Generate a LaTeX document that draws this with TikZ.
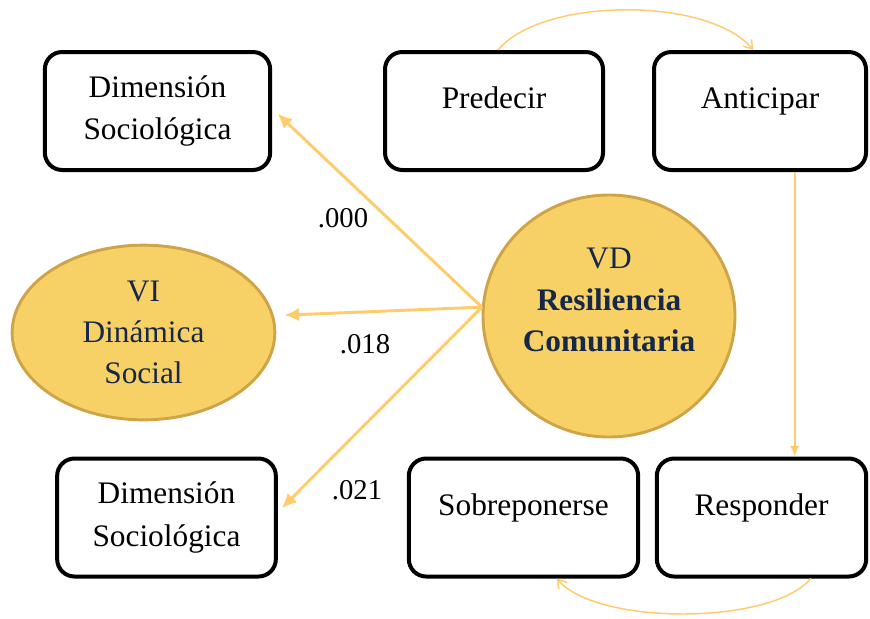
\documentclass[tikz,border=0pt]{standalone}
\usepackage{fontspec}
\setmainfont{Liberation Serif}
\usepackage{xcolor}
\usepackage{tikz}
\usetikzlibrary{arrows.meta,positioning,shapes.geometric,calc}
\definecolor{resilGold}{HTML}{F8D166}
\definecolor{resilRim}{HTML}{CFA448}
\definecolor{resilNavy}{HTML}{15284A}
\definecolor{resilArrow}{HTML}{FFCB6B}
\tikzset{
  dimbox/.style={
    rectangle,
    rounded corners=13pt,
    draw=black,
    fill=white,
    line width=3pt,
    minimum height=88.5pt,
    align=center,
    font=\fontsize{23.5}{32}\selectfont
  },
  varEllipse/.style={
    ellipse,
    draw=resilRim,
    fill=resilGold,
    line width=2.2pt,
    inner sep=0pt,
    align=center,
    text=resilNavy,
    font=\fontsize{23.5}{31}\selectfont
  },
  ellipseText/.style={
    align=center,
    text=resilNavy,
    font=\fontsize{23.5}{31}\selectfont
  },
  link/.style={
    -{Latex[length=11pt,width=10pt]},
    line width=2.2pt,
    draw=resilArrow
  },
  flow/.style={
    -{Latex[length=8pt,width=7pt]},
    line width=1.5pt,
    draw=resilArrow
  },
  loop/.style={
    -{Straight Barb[length=6pt,width=8pt]},
    line width=1.1pt,
    draw=resilArrow
  },
  pvalue/.style={
    font=\fontsize{21.5}{26}\selectfont
  }
}
\begin{document}
\begin{tikzpicture}[x=0.75pt,y=-0.75pt]
  \useasboundingbox (0,0) rectangle (870,618);
  \node[dimbox,minimum width=169pt] (dimTop) at (157.5,111) {Dimensión\\Sociológica};
  \node[dimbox,minimum width=163.5pt] (predecir) at (494,111) {Predecir\\[-12pt]\mbox{}};
  \node[dimbox,minimum width=159pt] (anticipar) at (760,111) {Anticipar\\[-12pt]\mbox{}};
  \node[dimbox,minimum width=164pt] (dimBottom) at (166.5,517.5) {Dimensión\\Sociológica};
  \node[dimbox,minimum width=172pt] (sobreponerse) at (523.5,517.5) {Sobreponerse\\[-12pt]\mbox{}};
  \node[dimbox,minimum width=157pt] (responder) at (761.5,517.5) {Responder\\[-12pt]\mbox{}};
  \node[varEllipse,minimum width=197pt,minimum height=131pt] (vi) at (143.5,332.5) {VI\\Dinámica\\Social};
  \node[varEllipse,minimum width=189pt,minimum height=181.5pt] (vd) at (609,316) {};
  \node[ellipseText] (vdText) at (609,300) {VD\\\textbf{Resiliencia}\\\textbf{Comunitaria}};
  \coordinate (hub) at (vd.176);
  \draw[link] (hub) -- ([shift={(4pt,-2pt)}]dimTop.east);
  \draw[link] (hub) -- ([shift={(6pt,13pt)}]vi.east);
  \draw[link] (hub) -- ([shift={(3pt,7pt)}]dimBottom.east);
  \node[pvalue] (pA) at (343,218) {.000};
  \node[pvalue] (pB) at (365,344) {.018};
  \node[pvalue] (pC) at (357,490) {.021};
  \draw[flow] ([xshift=26pt]anticipar.south) -- ([xshift=26pt]anticipar.south |- responder.north);
  \draw[loop] ([xshift=3pt]predecir.north) to[out=50,in=130,looseness=0.7] ([xshift=-5pt]anticipar.north);
  \draw[loop] ([xshift=37pt]responder.south) to[out=230,in=310,looseness=0.62] ([xshift=25pt]sobreponerse.south);
\end{tikzpicture}
\end{document}
